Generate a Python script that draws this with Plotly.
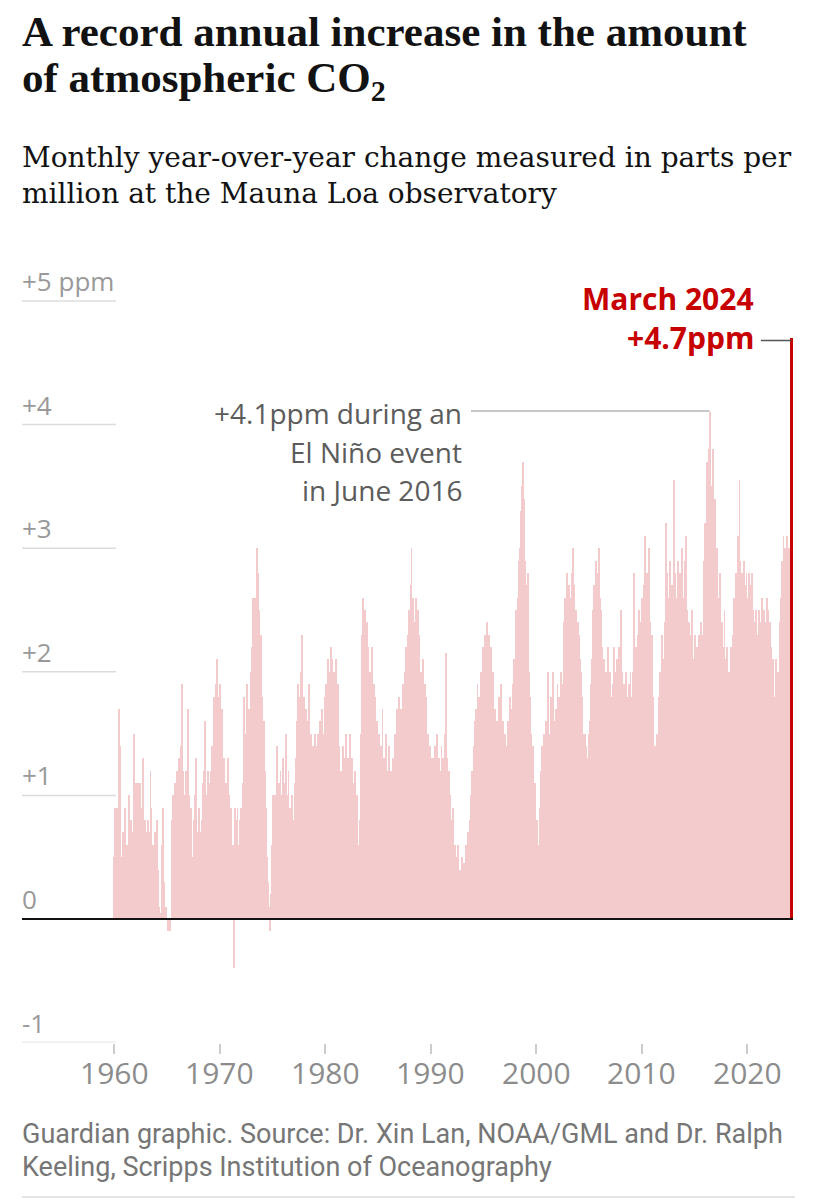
import plotly.graph_objects as go

# The page body has an 8px margin, so the figure is drawn 8px in and sized to fit the window.
PAGE_W, PAGE_H = 817, 1200
OFF = 8
W, H = PAGE_W - OFF, PAGE_H - OFF

# Monthly year-over-year change in CO2 (ppm) at Mauna Loa, Jan 1960 - Mar 2024
# one row per year
co2_1960s = [
    0.5, 0.9, 0.4, 0.9, 0.5, 1.7, 1.4, 0.6, 0.2, 0.5, 0.7, 0.3,
    0.9, 0.6, 0.4, 0.6, 0.4, 1.0, 0.5, 0.8, 0.3, 0.7, 1.5, 1.1,
    0.6, 1.1, 0.9, 1.1, 0.5, 1.1, 0.3, 0.9, 1.0, 1.3, 0.6, 0.8,
    0.2, 0.7, 0.8, 0.7, 0.5, 1.2, 0.9, 0.4, 0.6, 0.2, 0.7, 0.5,
    0.8, 0.3, 0.4, 0.1, 0.0, 0.05, 0.6, 0.9, 0.3, 0.05, 0.0, 0.1,
    0.0, -0.1, -0.1, -0.1, 0.0, 0.5, 0.8, 1.0, 0.7, 1.1, 0.9, 1.2,
    1.0, 1.3, 1.2, 1.3, 1.4, 1.9, 1.2, 1.0, 0.8, 1.2, 0.9, 1.1,
    1.7, 1.0, 0.6, 0.9, 0.5, 0.3, 0.8, 0.6, 1.0, 1.3, 0.7, 0.4,
    0.9, 0.6, 0.7, 0.8, 0.6, 1.1, 1.2, 1.6, 0.9, 1.0, 1.2, 0.7,
    1.1, 1.0, 1.2, 1.4, 1.3, 1.8, 1.5, 1.7, 1.9, 2.1, 1.8, 1.6,
]
co2_1970s = [
    1.9, 1.4, 1.7, 1.2, 1.0, 1.3, 0.8, 1.1, 0.6, 1.3, 1.0, 0.9,
    0.7, 0.9, 0.5, 0.6, -0.4, 0.9, 0.2, 0.8, 0.9, 0.6, 0.3, 0.8,
    0.9, 0.5, 1.1, 1.8, 1.2, 1.5, 1.0, 1.9, 1.4, 1.7, 1.6, 2.0,
    1.8, 2.2, 2.6, 2.4, 2.6, 2.5, 3.0, 2.8, 2.2, 2.5, 2.0, 2.3,
    1.8, 1.2, 1.6, 1.2, 0.9, 0.7, 0.5, 0.3, 0.1, -0.1, 0.2, 0.6,
    1.0, 0.5, 0.8, 1.0, 0.7, 1.4, 0.9, 1.1, 0.6, 1.2, 0.8, 1.0,
    1.3, 0.9, 1.1, 1.5, 1.0, 0.8, 1.2, 0.7, 0.9, 0.4, 1.0, 0.8,
    0.6, 1.1, 1.2, 1.3, 1.6, 1.9, 1.5, 1.8, 2.0, 2.3, 1.9, 1.6,
    1.8, 1.5, 1.7, 1.6, 1.3, 1.9, 1.4, 1.2, 1.5, 1.0, 1.4, 1.3,
    1.5, 0.9, 1.4, 1.3, 1.5, 1.2, 1.6, 1.4, 1.7, 1.3, 1.5, 1.8,
]
co2_1980s = [
    1.6, 1.9, 1.7, 2.1, 1.8, 2.0, 2.2, 1.9, 2.1, 1.7, 2.0, 1.8,
    2.1, 1.6, 1.9, 1.4, 1.1, 0.9, 1.2, 1.0, 1.4, 1.3, 1.1, 1.5,
    1.2, 1.0, 1.3, 1.2, 1.5, 1.0, 1.3, 0.8, 1.1, 0.9, 1.2, 0.7,
    1.0, 0.6, 0.4, 0.8, 1.5, 2.0, 2.3, 2.6, 2.2, 2.5, 2.1, 2.4,
    1.9, 2.2, 1.8, 2.0, 1.7, 2.2, 1.6, 1.9, 1.5, 1.8, 1.4, 1.6,
    1.2, 1.5, 1.3, 1.4, 1.2, 1.7, 1.0, 1.3, 0.7, 1.5, 1.2, 1.1,
    1.4, 1.0, 1.2, 1.2, 1.0, 1.3, 1.1, 1.5, 1.4, 1.7, 1.3, 1.6,
    1.8, 1.5, 1.7, 1.6, 1.9, 1.7, 2.0, 1.8, 2.2, 2.0, 2.3, 2.5,
    2.4, 2.7, 3.0, 2.5, 2.6, 2.3, 2.4, 2.6, 2.2, 2.5, 2.1, 2.3,
    1.9, 2.0, 1.8, 2.1, 1.7, 1.9, 1.6, 1.8, 1.4, 1.5, 1.2, 1.4,
]
co2_1990s = [
    1.1, 1.3, 1.2, 1.3, 1.0, 1.4, 1.2, 1.5, 1.1, 1.3, 0.9, 1.2,
    1.4, 1.0, 1.3, 1.2, 1.5, 2.15, 1.3, 1.1, 0.9, 1.2, 1.0, 0.8,
    0.6, 0.9, 0.5, 0.6, 0.4, 0.5, 0.3, 0.6, 0.25, 0.4, 0.3, 0.5,
    0.3, 0.35, 0.45, 0.3, 0.6, 0.4, 0.7, 0.5, 0.8, 0.9, 1.0, 1.2,
    1.1, 1.4, 1.6, 1.7, 1.5, 1.9, 1.6, 1.8, 1.7, 2.0, 1.9, 2.2,
    2.1, 2.3, 2.2, 2.3, 2.4, 2.1, 2.3, 2.0, 2.2, 1.9, 1.8, 2.0,
    1.6, 1.7, 1.4, 1.6, 1.3, 1.8, 1.5, 1.4, 1.9, 1.2, 1.6, 1.3,
    1.5, 1.1, 1.4, 1.3, 1.6, 1.4, 1.8, 1.5, 1.7, 1.9, 1.6, 2.1,
    2.0, 2.5, 2.3, 2.6, 2.9, 3.0, 3.3, 3.1, 3.5, 3.7, 3.4, 2.9,
    2.7, 2.5, 2.8, 2.4, 2.0, 1.8, 1.5, 1.2, 1.4, 0.9, 1.1, 0.7,
]
co2_2000s = [
    0.5, 0.8, 0.6, 0.5, 0.9, 1.2, 1.4, 1.0, 1.3, 1.5, 1.2, 1.6,
    1.4, 2.0, 1.3, 1.5, 1.3, 1.8, 1.4, 2.0, 1.6, 1.3, 1.7, 1.5,
    1.9, 1.4, 1.8, 1.7, 2.0, 1.6, 1.9, 2.4, 2.2, 2.6, 2.5, 2.8,
    2.4, 2.7, 2.6, 2.5, 2.8, 2.6, 3.0, 2.7, 2.4, 2.5, 2.2, 2.4,
    2.0, 2.3, 2.1, 2.0, 1.8, 1.5, 1.3, 1.5, 1.2, 1.4, 1.0, 1.3,
    1.5, 1.6, 1.9, 2.1, 2.5, 2.3, 2.7, 2.6, 2.9, 2.4, 2.8, 3.0,
    2.6, 2.5, 2.3, 2.2, 1.9, 2.1, 1.8, 2.0, 1.7, 2.2, 1.9, 1.8,
    2.0, 1.6, 1.8, 1.9, 2.2, 1.7, 2.0, 1.6, 2.1, 1.8, 2.2, 1.9,
    2.5, 2.0, 0.6, 1.7, 1.9, 1.6, 2.0, 1.8, 1.5, 1.9, 1.7, 2.0,
    1.6, 1.8, 2.0, 2.8, 1.9, 2.2, 1.8, 2.3, 2.0, 2.5, 2.2, 2.4,
]
co2_2010s = [
    2.6, 2.3, 2.7, 2.6, 3.1, 2.5, 2.8, 2.2, 3.0, 2.4, 1.9, 2.3,
    1.6, 1.8, 1.3, 1.4, 1.2, 1.5, 1.3, 1.8, 1.5, 2.0, 1.7, 2.3,
    1.9, 2.1, 2.4, 3.2, 2.5, 2.8, 2.3, 2.6, 2.9, 2.4, 2.7, 2.5,
    3.0, 3.55, 2.8, 2.6, 2.2, 2.9, 2.5, 2.8, 2.3, 2.7, 3.0, 2.4,
    2.6, 2.9, 3.1, 2.5, 2.2, 2.0, 2.4, 1.8, 2.3, 2.5, 1.9, 2.1,
    2.3, 1.7, 2.0, 2.2, 2.0, 2.3, 2.1, 2.4, 2.2, 2.3, 2.7, 2.9,
    3.2, 3.0, 3.7, 3.4, 3.8, 4.1, 3.6, 3.5, 3.3, 3.8, 3.1, 3.4,
    2.9, 3.0, 2.7, 2.6, 2.3, 2.8, 2.1, 2.4, 2.0, 2.2, 2.5, 1.9,
    2.1, 2.2, 1.7, 2.0, 1.7, 2.2, 1.9, 2.1, 2.3, 2.6, 2.4, 2.8,
    2.6, 3.1, 2.9, 3.55, 2.9, 2.6, 2.8, 2.5, 2.9, 2.7, 2.5, 2.8,
]
co2_2020s = [
    2.6, 2.4, 2.8, 2.7, 2.4, 2.8, 2.3, 2.5, 2.2, 2.4, 2.5, 2.3,
    2.2, 2.5, 2.3, 2.4, 2.2, 2.6, 2.3, 2.5, 2.1, 2.4, 2.6, 2.2,
    2.5, 2.3, 2.4, 2.2, 2.0, 2.1, 1.8, 1.3, 1.9, 2.1, 1.7, 2.0,
    1.5, 2.4, 2.6, 2.9, 2.7, 3.1, 2.8, 3.0, 2.6, 3.1, 2.9, 3.0,
    2.8, 3.1, 4.7,
]

tick_years = [1960, 1970, 1980, 1990, 2000, 2010, 2020]
y_tick_values = [-1, 0, 1, 2, 3, 4, 5]
y_tick_labels = ["-1", "0", "+1", "+2", "+3", "+4", "+5 ppm"]

MONTHS = ["January", "February", "March", "April", "May", "June", "July",
          "August", "September", "October", "November", "December"]

values = co2_1960s + co2_1970s + co2_1980s + co2_1990s + co2_2000s + co2_2010s + co2_2020s
n = len(values)
dates = [1960 + i / 12 for i in range(n)]

hist_x, hist_y = dates[:-1], values[:-1]
last_x, last_y = dates[-1], values[-1]
last_label = f"{MONTHS[(n - 1) % 12]} {1960 + (n - 1) // 12}"
peak_i = max(range(n - 1), key=lambda i: values[i])
peak_x, peak_y = dates[peak_i], values[peak_i]
peak_label = f"{MONTHS[peak_i % 12]} {1960 + peak_i // 12}"

# ---- geometry (page pixels -> paper / data) ----
PX_PER_YEAR = 10.55
X0_PX = 114.4          # page pixel of 1960.0
def px2year(px):
    return 1960 + (px - X0_PX) / PX_PER_YEAR
def xp(px):
    return (px - OFF) / W
def yp(py):
    return 1 - (py - OFF) / H

PLOT_L, PLOT_R = 22, 800
Y_TOP, Y_BOT = 5.17, -1.0
PLOT_T, PLOT_B = 280.0, 1042.6

PINK = "#f4cbcd"
RED = "#c70000"
GRID = "#dcdcdc"
LABEL_GREY = "#999999"
AXIS_GREY = "#8c8c8c"

fig = go.Figure()
fig.add_trace(go.Bar(x=hist_x, y=hist_y, width=1 / 12, marker=dict(color=PINK, line=dict(width=0)),
                     hoverinfo="skip"))
fig.add_trace(go.Bar(x=[last_x], y=[last_y], width=0.28, marker=dict(color=RED, line=dict(width=0)),
                     hoverinfo="skip"))

shapes = []
for v in y_tick_values:
    if v == 0:
        continue
    shapes.append(dict(type="line", xref="paper", yref="y", x0=xp(22), x1=xp(116), y0=v, y1=v,
                       line=dict(color=GRID, width=1.5)))
# zero line
shapes.append(dict(type="line", xref="paper", yref="y", x0=xp(22), x1=xp(793), y0=0, y1=0,
                   line=dict(color="#121212", width=2), layer="above"))
# El Nino leader
shapes.append(dict(type="line", xref="x", yref="y", x0=px2year(471), x1=peak_x, y0=peak_y + 0.01,
                   y1=peak_y + 0.01, line=dict(color="#b5b5b5", width=1.5)))
# March 2024 leader
shapes.append(dict(type="line", xref="x", yref="y", x0=px2year(761), x1=last_x, y0=last_y - 0.02,
                   y1=last_y - 0.02, line=dict(color="#555555", width=1.5)))
# footer rule
shapes.append(dict(type="line", xref="paper", yref="paper", x0=xp(22), x1=xp(795), y0=yp(1197),
                   y1=yp(1197), line=dict(color=GRID, width=1.5)))

ann = []
def text(s, x, y, size, color, family, xanchor="left", yanchor="middle", xref="paper", yref="paper"):
    ann.append(dict(text=s, x=x, y=y, xref=xref, yref=yref, xanchor=xanchor, yanchor=yanchor,
                    showarrow=False, font=dict(size=size, color=color, family=family),
                    align=xanchor if xanchor != "center" else "center"))

TITLE_FONT = "Liberation Serif"
SUB_FONT = "DejaVu Serif"
SANS = "Open Sans"

text("<b>A record annual increase in the amount</b>", xp(20), yp(32), 43, "#121212", TITLE_FONT)
text("<b>of atmospheric CO<sub>2</sub></b>", xp(20), yp(81), 43, "#121212", TITLE_FONT)
text("Monthly year-over-year change measured in parts per", xp(20), yp(157), 28, "#121212", SUB_FONT)
text("million at the Mauna Loa observatory", xp(20), yp(193), 28, "#121212", SUB_FONT)

for v, lab in zip(y_tick_values, y_tick_labels):
    text(lab, xp(20), v, 26, LABEL_GREY, SANS, yanchor="bottom", yref="y")

# x-axis year labels, placed through the x axis scale
for yr in tick_years:
    text(str(yr), yr, yp(1072), 30, AXIS_GREY, SANS, xanchor="center", xref="x")

text(f"+{peak_y:.1f}ppm during an", xp(464), yp(413), 28, "#5c5c5c", SANS, xanchor="right")
text("El Niño event", xp(464), yp(452), 28, "#5c5c5c", SANS, xanchor="right")
text(f"in {peak_label}", xp(464), yp(490), 28, "#5c5c5c", SANS, xanchor="right")

text(f"<b>{last_label}</b>", xp(756), yp(298), 30, RED, SANS, xanchor="right")
text(f"<b>+{last_y:.1f}ppm</b>", xp(756), yp(337), 30, RED, SANS, xanchor="right")

text("Guardian graphic. Source: Dr. Xin Lan, NOAA/GML and Dr. Ralph", xp(20), yp(1134), 27, "#767676", "Roboto")
text("Keeling, Scripps Institution of Oceanography", xp(20), yp(1167), 27, "#767676", "Roboto")

fig.update_layout(
    width=W, height=H, margin=dict(l=0, r=0, t=0, b=0),
    paper_bgcolor="white", plot_bgcolor="white",
    showlegend=False, bargap=0, barmode="overlay",
    shapes=shapes, annotations=ann,
    xaxis=dict(domain=[xp(PLOT_L), xp(PLOT_R)], range=[px2year(PLOT_L), px2year(PLOT_R)],
               tickmode="array", tickvals=tick_years, showticklabels=False,
               ticks="outside", ticklen=10, tickwidth=1.5, tickcolor="#cccccc",
               showgrid=False, zeroline=False, showline=False, fixedrange=True),
    yaxis=dict(domain=[yp(PLOT_B), yp(PLOT_T)], range=[Y_BOT, Y_TOP],
               showgrid=False, zeroline=False, showline=False, showticklabels=False,
               ticks="", fixedrange=True),
)

fig.write_html("out.html")
